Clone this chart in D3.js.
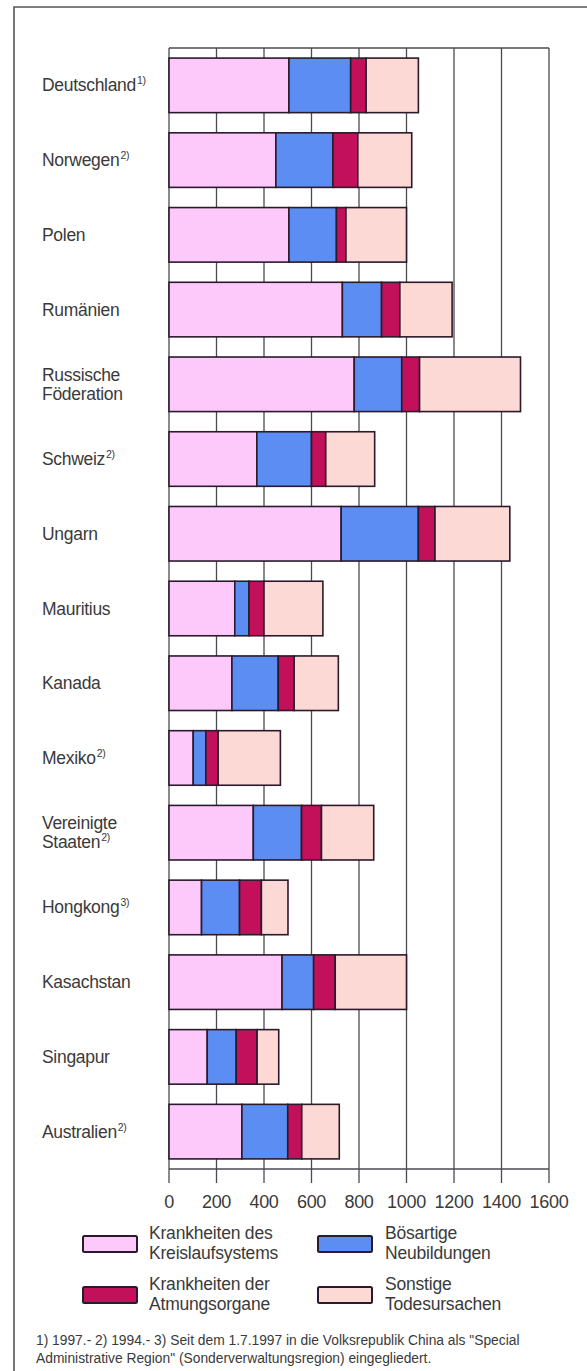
<!DOCTYPE html>
<html>
<head>
<meta charset="utf-8">
<script src="https://cdn.jsdelivr.net/npm/d3@7"></script>
<style>
  html, body { margin: 0; padding: 0; background: #fff; }
  svg { display: block; }
  text { font-family: "Liberation Sans", Arial, Helvetica, sans-serif; fill: #3a3a3a; }
</style>
</head>
<body>
<script>
// Sterbefälle je 100 000 Einwohner nach Todesursachen
const countries = ["Deutschland", "Norwegen", "Polen", "Rumänien", "Russische Föderation",
  "Schweiz", "Ungarn", "Mauritius", "Kanada", "Mexiko", "Vereinigte Staaten",
  "Hongkong", "Kasachstan", "Singapur", "Australien"];
const notes = ["1)", "2)", "", "", "", "2)", "", "", "", "2)", "2)", "3)", "", "", "2)"];

const kreislauf    = [505, 450, 505, 730, 780, 370, 725, 277, 265, 102, 355, 137, 476, 161, 307];
const neubildungen = [260, 240, 200, 165, 200, 230, 325,  60, 195,  53, 203, 160, 133, 122, 193];
const atmung       = [ 65, 105,  40,  77,  75,  60,  70,  63,  67,  52,  84,  92,  91,  88,  59];
const sonstige     = [220, 227, 255, 220, 425, 206, 315, 248, 186, 262, 220, 112, 300,  91, 158];

const seriesKeys = ["kreislauf", "neubildungen", "atmung", "sonstige"];
const seriesLabels = [
  ["Krankheiten des", "Kreislaufsystems"],
  ["Bösartige", "Neubildungen"],
  ["Krankheiten der", "Atmungsorgane"],
  ["Sonstige", "Todesursachen"]
];
const xTicks = [0, 200, 400, 600, 800, 1000, 1200, 1400, 1600];

const colors = { kreislauf: "#fdc9fb", neubildungen: "#5b8df2", atmung: "#c3105a", sonstige: "#fdd9d5" };

const rows = countries.map((c, i) => ({
  country: c, note: notes[i],
  kreislauf: kreislauf[i], neubildungen: neubildungen[i], atmung: atmung[i], sonstige: sonstige[i]
}));

const W = 587, H = 1371;
const svg = d3.select("body").append("svg").attr("width", W).attr("height", H);

// outer frame (continues past the page edges)
svg.append("path")
  .attr("d", `M14,${H + 2} L14,7 L${W + 2},7`)
  .attr("fill", "none").attr("stroke", "#555").attr("stroke-width", 1.6);

const plotTop = 48, plotBottom = 1169;
const x = d3.scaleLinear().domain([0, 1600]).range([169, 549]);
const y = d3.scaleBand().domain(countries).range([plotTop, plotBottom])
  .paddingInner(0.27).paddingOuter(0.135);

const lineColor = "#4a4a52";

// vertical grid lines with ticks below the axis
svg.append("g").selectAll("line").data(xTicks).join("line")
  .attr("x1", d => x(d)).attr("x2", d => x(d))
  .attr("y1", plotTop).attr("y2", plotBottom + 14)
  .attr("stroke", lineColor).attr("stroke-width", 1.3);

// top frame and bottom axis line
svg.append("line").attr("x1", x(0)).attr("x2", x(1600)).attr("y1", plotTop).attr("y2", plotTop)
  .attr("stroke", lineColor).attr("stroke-width", 1.3);
svg.append("line").attr("x1", x(0)).attr("x2", x(1600)).attr("y1", plotBottom).attr("y2", plotBottom)
  .attr("stroke", lineColor).attr("stroke-width", 1.3);

// tick labels
svg.append("g").selectAll("text").data(xTicks).join("text")
  .attr("x", d => x(d)).attr("y", plotBottom + 39)
  .attr("text-anchor", "middle").attr("font-size", 18).attr("letter-spacing", -0.3)
  .text(d => d);

// stacked bars
const stacked = d3.stack().keys(seriesKeys)(rows);
svg.append("g").selectAll("g").data(stacked).join("g")
  .attr("fill", d => colors[d.key])
  .selectAll("rect").data(d => d).join("rect")
  .attr("x", d => x(d[0]))
  .attr("width", d => x(d[1]) - x(d[0]))
  .attr("y", d => y(d.data.country))
  .attr("height", y.bandwidth())
  .attr("stroke", "#2b1a2b").attr("stroke-width", 1.6);

// category labels
const labelG = svg.append("g");
rows.forEach(r => {
  const parts = r.country === "Russische Föderation" ? ["Russische", "Föderation"]
              : r.country === "Vereinigte Staaten" ? ["Vereinigte", "Staaten"]
              : [r.country];
  const cy = y(r.country) + y.bandwidth() / 2;
  const lh = 19;
  parts.forEach((p, k) => {
    const t = labelG.append("text")
      .attr("x", 42)
      .attr("y", cy + (k - (parts.length - 1) / 2) * lh + 6)
      .attr("font-size", 17.5).attr("letter-spacing", -0.3);
    t.append("tspan").text(p);
    if (k === parts.length - 1 && r.note) {
      t.append("tspan").attr("font-size", 10.5).attr("dy", -7).attr("dx", 1).text(r.note);
    }
  });
});

// legend
const legendPos = [
  { sx: 83, tx: 149, y: 1236 },
  { sx: 318, tx: 385, y: 1236 },
  { sx: 83, tx: 149, y: 1287 },
  { sx: 318, tx: 385, y: 1287 }
];
const legend = svg.append("g");
seriesKeys.forEach((k, i) => {
  const p = legendPos[i];
  legend.append("rect").attr("x", p.sx).attr("y", p.y).attr("width", 54).attr("height", 16)
    .attr("fill", colors[k]).attr("stroke", "#2b1a2b").attr("stroke-width", 2).attr("rx", 1.5);
  seriesLabels[i].forEach((line, j) => {
    legend.append("text").attr("x", p.tx).attr("y", p.y + 3 + j * 20)
      .attr("font-size", 17.5).attr("letter-spacing", -0.2).text(line);
  });
});

// footnotes
const footnotes = [
  "1) 1997.- 2) 1994.- 3) Seit dem 1.7.1997 in die Volksrepublik China als \"Special",
  "Administrative Region\" (Sonderverwaltungsregion) eingegliedert."
];
svg.append("g").selectAll("text").data(footnotes).join("text")
  .attr("x", 36).attr("y", (d, i) => 1345 + i * 18)
  .attr("font-size", 13.8)
  .text(d => d);
</script>
</body>
</html>
